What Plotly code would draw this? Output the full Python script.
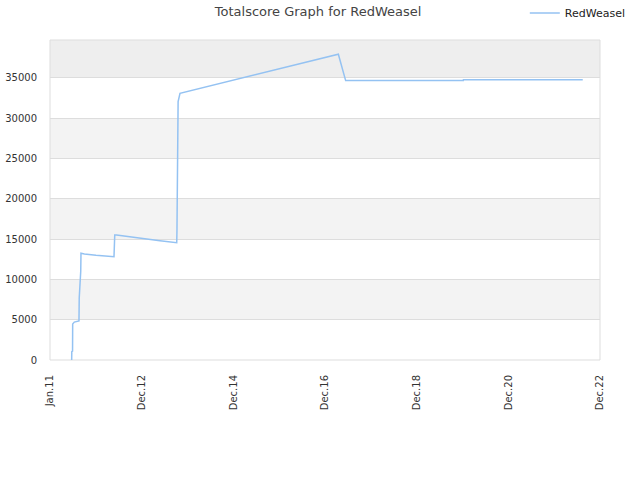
import plotly.graph_objects as go

dates = ["2011-06-22", "2011-06-23", "2011-06-29", "2011-06-30", "2011-07-13",
         "2011-08-19", "2011-08-21", "2011-09-02", "2011-09-04", "2011-10-01",
         "2012-01-01", "2012-05-23", "2012-05-29", "2012-06-12", "2013-05-23",
         "2013-10-03", "2013-10-05", "2013-10-09", "2013-10-14", "2013-10-29",
         "2017-04-08", "2017-06-05", "2019-12-26", "2019-12-27", "2022-07-31"]
values = [0, 1030, 1100, 4470, 4700,
          4840, 7700, 11000, 13240, 13150,
          13000, 12820, 15510, 15500, 14800,
          14560, 16200, 25700, 32050, 33090,
          37930, 34660, 34660, 34780, 34780]

x_range = ["2011-01-01", "2022-12-15"]
tick_dates = ["2011-01-01", "2012-12-28", "2014-12-26", "2016-12-23",
              "2018-12-20", "2020-12-17", "2022-12-15"]
tick_labels = ["Jan.11", "Dec.12", "Dec.14", "Dec.16", "Dec.18", "Dec.20", "Dec.22"]
y_ticks = [0, 5000, 10000, 15000, 20000, 25000, 30000, 35000]
y_max = 39700

fig = go.Figure()
fig.add_trace(go.Scatter(x=dates, y=values, mode="lines", name="RedWeasel",
                         line=dict(color="#94c2f2", width=1.5)))

shapes = []
bands = [(5000, 10000, "#f3f3f3"), (15000, 20000, "#f3f3f3"),
         (25000, 30000, "#f3f3f3"), (35000, y_max, "#eeeeee")]
for y0, y1, c in bands:
    shapes.append(dict(type="rect", xref="paper", yref="y", x0=0, x1=1, y0=y0, y1=y1,
                       fillcolor=c, line=dict(width=0), layer="below"))
shapes.append(dict(type="rect", xref="paper", yref="paper", x0=0, x1=1, y0=0, y1=1,
                   line=dict(color="#dddddd", width=1), fillcolor="rgba(0,0,0,0)", layer="below"))

fig.update_layout(
    width=640, height=480,
    margin=dict(l=50, r=40, t=40, b=120, autoexpand=False),
    paper_bgcolor="white", plot_bgcolor="white",
    font=dict(family="DejaVu Sans", size=10, color="#333333"),
    title=dict(text="Totalscore Graph for RedWeasel", x=0.497, xref="container",
               y=0.986, yref="container", yanchor="top",
               font=dict(size=13, color="#444444")),
    showlegend=True,
    legend=dict(xref="container", yref="container", x=0.82, xanchor="left",
                y=0.973, yanchor="middle",
                font=dict(size=11, color="#222222"), bgcolor="rgba(0,0,0,0)"),
    shapes=shapes,
    xaxis=dict(type="date", range=x_range,
               tickvals=tick_dates, ticktext=tick_labels, tickangle=-90,
               showgrid=False, zeroline=False, showline=False, automargin=False,
               ticks="", ticklabelstandoff=12, tickfont=dict(size=10, color="#333333")),
    yaxis=dict(range=[0, y_max], tickvals=y_ticks, tickformat="d",
               showgrid=True, gridcolor="#dddddd", gridwidth=1, automargin=False,
               zeroline=False, showline=False, ticks="", ticklabelstandoff=12,
               tickfont=dict(size=10, color="#333333")),
)

fig.write_html("out.html", config={"displayModeBar": False},
               post_script="document.body.style.margin='0px';")
